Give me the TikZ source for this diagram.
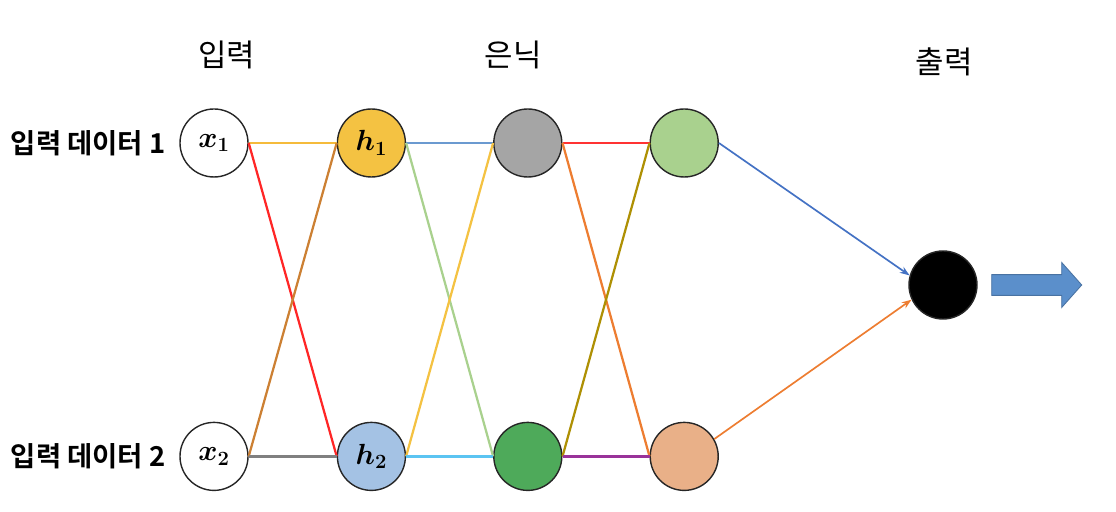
\documentclass[tikz,border=0pt]{standalone}
\usepackage{amsmath,bm}
\usepackage{fontspec}
\newfontfamily\kr[BoldFont={Noto Sans CJK KR Bold}]{Noto Sans CJK KR}
\usepackage{xcolor}
\usetikzlibrary{positioning,arrows.meta,calc}
\definecolor{cYel}{HTML}{F4C242}
\definecolor{cBlu}{HTML}{A4C2E4}
\definecolor{cGry}{HTML}{A5A5A5}
\definecolor{cDgr}{HTML}{4EAA5A}
\definecolor{cLgr}{HTML}{A9D18E}
\definecolor{cPch}{HTML}{E9B088}
\definecolor{cArr}{HTML}{5B8FCB}
\definecolor{cSky}{HTML}{5BC4F2}
\definecolor{cOut}{HTML}{4472C4}
\definecolor{cOrg}{HTML}{ED7D31}
\tikzset{
  link/.style={line width=1.6pt},
  every node/.style={anchor=center}
}

\begin{document}
\begin{tikzpicture}[
  neuron/.style={circle, draw=black!85, line width=1.0pt, fill=white, minimum size=1.7cm, inner sep=0pt, font=\fontsize{22}{26}\selectfont},
  title/.style={font=\kr\fontsize{22}{26}\selectfont},
  inlabel/.style={font=\kr\bfseries\fontsize{19.5}{23}\selectfont, anchor=east},
  feed/.style={-{Stealth[length=7pt,width=5pt]}, line width=1.2pt}
]
\useasboundingbox (-5.35,3.575) rectangle (22.55,-9.225);
% input and hidden layers
\node[neuron] (x1) at (0,0) {$\bm{x_1}$};
\node[neuron, below=6.1cm of x1] (x2) {$\bm{x_2}$};
\node[neuron, fill=cYel, right=2.2cm of x1] (h1) {$\bm{h_1}$};
\node[neuron, fill=cBlu, right=2.2cm of x2] (h2) {$\bm{h_2}$};
\node[neuron, fill=cGry, right=2.175cm of h1] (g1) {};
\node[neuron, fill=cDgr, right=2.175cm of h2] (g2) {};
\node[neuron, fill=cLgr, right=2.175cm of g1] (k1) {};
\node[neuron, fill=cPch, right=2.175cm of g2] (k2) {};
\node[neuron, fill=black] (out) at (18.225,-3.55) {};
% labels
\node[inlabel, left=0.22cm of x1] (in1) {입력 데이터 1};
\node[inlabel, left=0.22cm of x2] (in2) {입력 데이터 2};
\node[title] (tin) at (0.325,2.2) {입력};
\node[title] (thid) at (7.475,2.2) {은닉};
\node[title] (tout) at (18.25,2.025) {출력};
% weights
\draw[link, draw=cYel!90!orange] (x1.east) -- (h1.west);
\draw[link, draw=red!85] (x1.east) -- (h2.west);
\draw[link, draw=brown!80!orange] (x2.east) -- (h1.west);
\draw[link, draw=gray] (x2.east) -- (h2.west);
\draw[link, draw=cArr!90] (h1.east) -- (g1.west);
\draw[link, draw=cLgr] (h1.east) -- (g2.west);
\draw[link, draw=cYel] (h2.east) -- (g1.west);
\draw[link, draw=cSky] (h2.east) -- (g2.west);
\draw[link, draw=red!80] (g1.east) -- (k1.west);
\draw[link, draw=cOrg] (g1.east) -- (k2.west);
\draw[link, draw=olive!70!orange] (g2.east) -- (k1.west);
\draw[link, draw=violet!80] (g2.east) -- (k2.west);
\draw[feed, draw=cOut, fill=cOut] (k1.east) -- (out.164);
\draw[feed, draw=cOrg, fill=cOrg] (k2.30) -- (out.205);
% result arrow
\draw[fill=cArr, draw=cArr!80!black, line width=0.6pt] (out.east) ++(0.35,0.26)
  -- ++(1.75,0) -- ++(0,0.3025) -- ++(0.5,-0.5625) -- ++(-0.5,-0.5625)
  -- ++(0,0.3025) -- ++(-1.75,0) -- cycle;
\end{tikzpicture}
\end{document}
